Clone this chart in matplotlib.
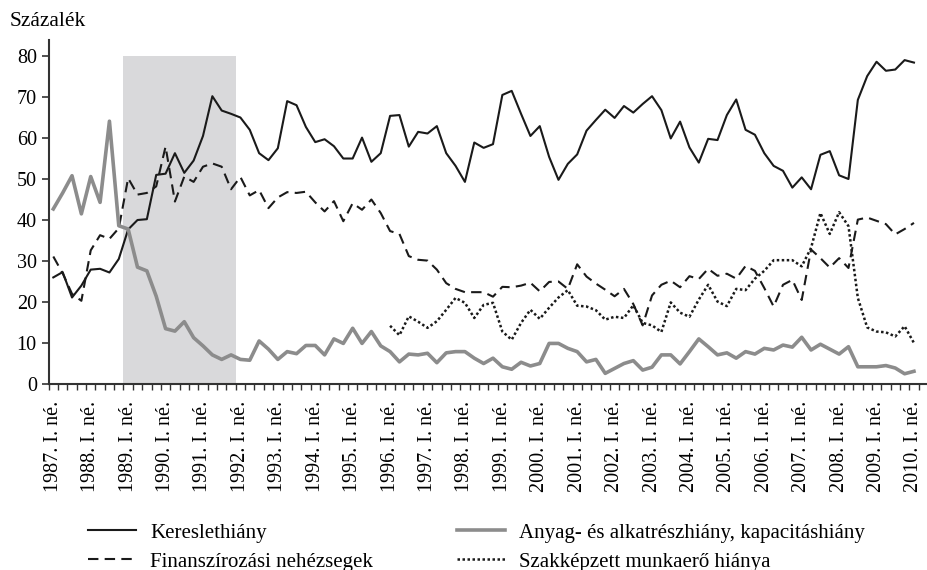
import matplotlib
matplotlib.use("Agg")
import matplotlib.pyplot as plt
import numpy as np

plt.rcParams['font.family'] = ['Liberation Serif', 'DejaVu Serif']

# negyedéves adatok, 1987. I. né. - 2010. I. né.
quarters = [f"{y}. {q}. né." for y in range(1987, 2011) for q in ["I", "II", "III", "IV"]][:93]

kereslethiany = [26.0, 27.3, 21.1, 24.0, 27.9, 28.1, 27.2, 30.5, 37.7, 40.0, 40.2, 51.0,
                 51.3, 56.3, 51.5, 54.5, 60.5, 70.2, 66.7, 65.9, 65.0, 62.0, 56.3, 54.6,
                 57.5, 69.0, 68.0, 62.7, 59.0, 59.7, 58.0, 55.0, 55.0, 60.1, 54.2, 56.3,
                 65.4, 65.6, 57.9, 61.5, 61.1, 62.9, 56.3, 53.2, 49.3, 58.9, 57.6, 58.5,
                 70.5, 71.5, 65.9, 60.5, 62.9, 55.4, 49.8, 53.7, 56.0, 61.8, 64.4, 66.9,
                 64.9, 67.8, 66.2, 68.3, 70.2, 66.8, 59.9, 64.0, 57.7, 54.0, 59.8, 59.5,
                 65.6, 69.4, 62.0, 60.8, 56.3, 53.2, 52.0, 47.9, 50.4, 47.5, 55.9, 56.8,
                 50.9, 50.0, 69.3, 75.1, 78.6, 76.4, 76.7, 79.0, 78.4]

finanszirozas = [31.1, 27.0, 22.0, 20.3, 32.6, 36.3, 35.4, 38.0, 50.2, 46.2, 46.6, 48.2,
                 57.9, 44.5, 50.6, 49.3, 53.0, 53.8, 53.0, 47.5, 50.5, 46.0, 47.3, 42.9,
                 45.5, 46.8, 46.6, 46.9, 44.3, 42.1, 44.6, 39.7, 44.1, 42.5, 45.0, 41.7,
                 37.3, 36.6, 31.2, 30.3, 30.1, 27.9, 24.6, 23.2, 22.4, 22.4, 22.4, 21.3,
                 23.7, 23.6, 24.0, 24.7, 22.6, 24.9, 25.0, 23.2, 29.2, 26.2, 24.5, 23.0,
                 21.4, 23.2, 19.5, 14.3, 21.6, 24.2, 25.2, 23.6, 26.3, 25.6, 28.1, 26.4,
                 26.9, 25.7, 28.8, 27.6, 23.4, 18.9, 24.2, 25.4, 20.5, 32.8, 30.7, 28.4,
                 30.7, 28.3, 40.1, 40.6, 39.8, 39.0, 36.5, 37.8, 39.3]

anyaghiany = [42.7, 46.6, 50.8, 41.5, 50.6, 44.3, 64.1, 38.6, 37.8, 28.5, 27.6, 21.4,
              13.5, 12.9, 15.2, 11.3, 9.3, 7.1, 6.0, 7.1, 6.0, 5.8, 10.5, 8.5,
              6.0, 7.9, 7.4, 9.4, 9.4, 7.1, 11.0, 9.9, 13.6, 9.9, 12.8, 9.3,
              7.9, 5.4, 7.3, 7.1, 7.5, 5.2, 7.6, 7.9, 7.9, 6.3, 5.0, 6.3,
              4.2, 3.6, 5.3, 4.4, 5.0, 9.9, 9.9, 8.7, 7.9, 5.4, 6.0, 2.6,
              3.8, 5.0, 5.7, 3.4, 4.1, 7.1, 7.1, 4.9, 7.9, 11.0, 9.1, 7.1,
              7.6, 6.3, 7.9, 7.3, 8.7, 8.3, 9.5, 9.0, 11.4, 8.3, 9.7, 8.5,
              7.3, 9.1, 4.2, 4.2, 4.2, 4.5, 3.9, 2.5, 3.1]

# 1996 előtt nincs adat
szakkepzett = [np.nan] * 36 + [
              14.2, 11.9, 16.5, 15.2, 13.7, 15.3, 18.1, 21.0, 19.8, 16.1, 19.3, 19.8,
              12.8, 10.8, 14.9, 18.1, 15.9, 18.6, 21.1, 22.9, 19.1, 18.9, 18.0, 15.7,
              16.4, 16.1, 19.2, 14.9, 14.3, 12.7, 19.9, 17.4, 16.4, 20.6, 24.2, 20.1,
              19.0, 23.2, 22.9, 25.7, 27.6, 30.2, 30.2, 30.2, 28.7, 33.2, 41.7, 36.6,
              41.9, 38.5, 21.0, 13.8, 12.8, 12.6, 11.6, 14.1, 10.0]

shade_start, shade_end = "1989. I. né.", "1991. IV. né."

x = np.arange(len(quarters))

fig = plt.figure(figsize=(9.28, 5.70), dpi=100)
ax = fig.add_axes([0.0524, 0.3263, 0.9476, 0.6042])

i0 = quarters.index(shade_start)
i1 = quarters.index(shade_end)
ax.fill_between([i0 - 0.5, i1 + 0.5], 0, 80, color='#d9d9db', lw=0, zorder=0)

ax.plot(x, kereslethiany, color='#1a1a1a', lw=1.5, label='Kereslethiány')
ax.plot(x, finanszirozas, color='#1a1a1a', lw=1.5, dashes=(5, 3),
        label='Finanszírozási nehézsegek')
ax.plot(x, anyaghiany, color='#8c8c8c', lw=2.6,
        label='Anyag- és alkatrészhiány, kapacitáshiány')
ax.plot(x, szakkepzett, color='#1a1a1a', lw=1.8, dashes=(1, 1),
        label='Szakképzett munkaerő hiánya')

ax.set_xlim(-0.5, 93.1)
ax.set_ylim(0, 84)
ax.set_yticks(range(0, 81, 10))
ax.tick_params(axis='y', labelsize=14.5, length=5, width=1.2, pad=3.5, color='#333333')

ax.set_xticks(x[::4])
ax.set_xticklabels(quarters[::4], rotation=90, fontsize=14.5)
ax.set_xticks(np.arange(-0.5, 93.6, 1), minor=True)
ax.tick_params(axis='x', which='major', length=0, pad=12)
ax.tick_params(axis='x', which='minor', length=4.5, width=1, color='#333333', direction='out')

for s in ['top', 'right']:
    ax.spines[s].set_visible(False)
for s in ['left', 'bottom']:
    ax.spines[s].set_linewidth(1.5)
    ax.spines[s].set_color('#333333')

fig.text(10 / 928, 1 - 21 / 570, 'Százalék', fontsize=15.5, va='center', ha='left')

fig.legend(loc='upper left', bbox_to_anchor=(88 / 928, 1 - 523 / 570), ncol=2,
           frameon=False, fontsize=15, handlelength=2.3, handletextpad=0.7,
           columnspacing=4.0, labelspacing=0.45, borderpad=0, borderaxespad=0)

fig.savefig('out.png', dpi=100)
